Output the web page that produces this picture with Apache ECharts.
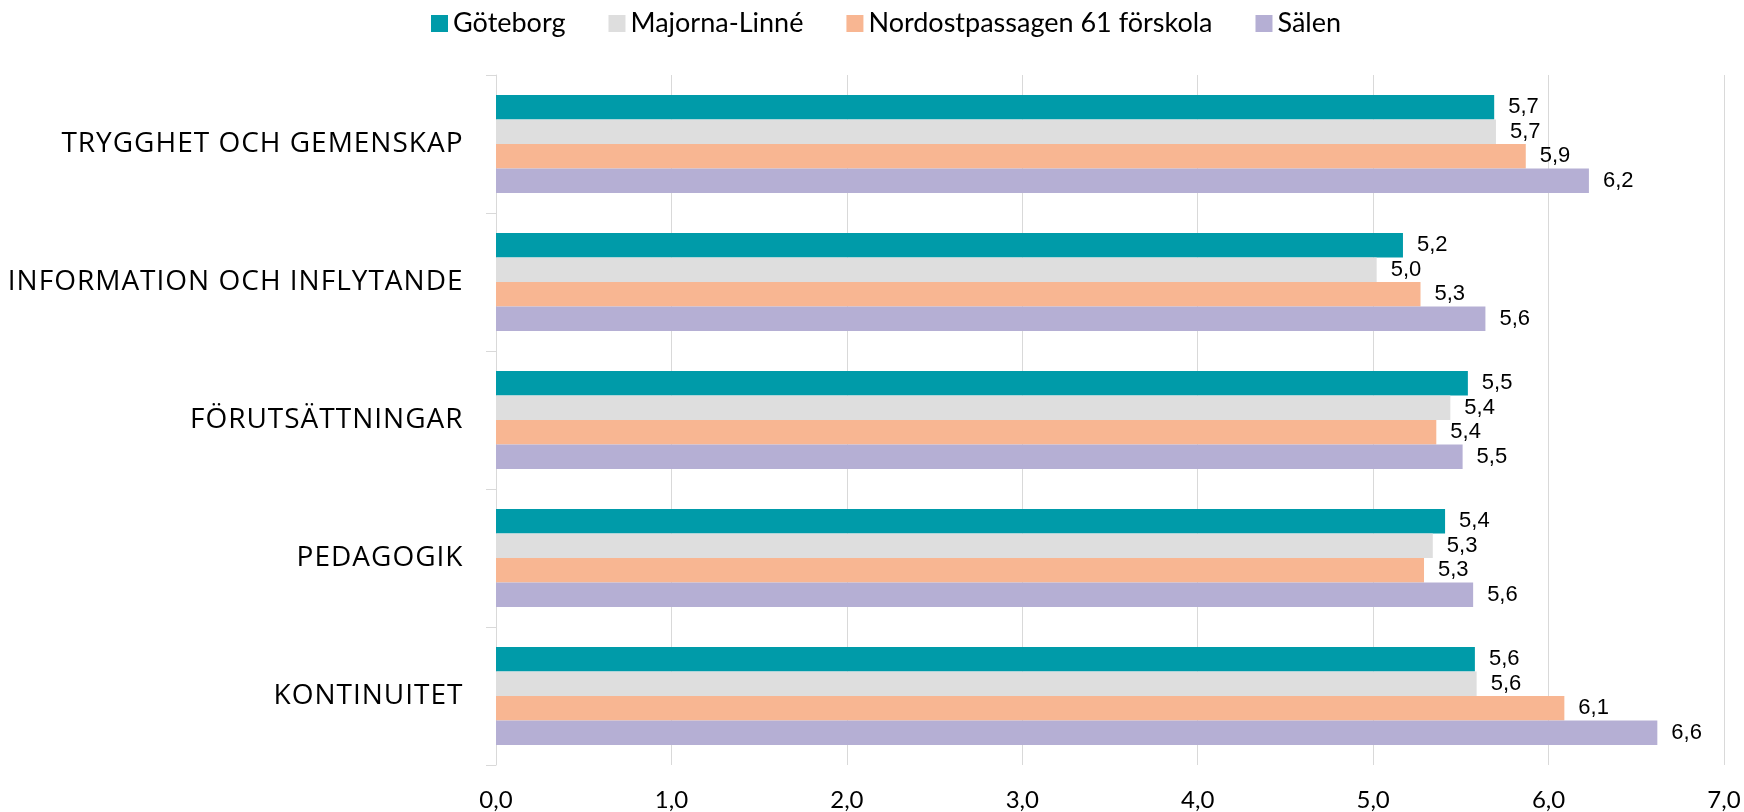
<!DOCTYPE html>
<html>
<head>
<meta charset="utf-8">
<script src="https://cdn.jsdelivr.net/npm/echarts@6/dist/echarts.min.js"></script>
<style>
html,body{margin:0;padding:0;background:#fff;}
#chart{width:1744px;height:812px;}
</style>
</head>
<body>
<div id="chart"></div>
<script>
const categories = ["TRYGGHET OCH GEMENSKAP", "INFORMATION OCH INFLYTANDE", "FÖRUTSÄTTNINGAR", "PEDAGOGIK", "KONTINUITET"];
const seriesNames = ["Göteborg", "Majorna-Linné", "Nordostpassagen 61 förskola", "Sälen"];
const goteborg = [5.69, 5.17, 5.54, 5.41, 5.58];
const majornaLinne = [5.70, 5.02, 5.44, 5.34, 5.59];
const nordostpassagen = [5.87, 5.27, 5.36, 5.29, 6.09];
const salen = [6.23, 5.64, 5.51, 5.57, 6.62];
const xTicks = [0, 1, 2, 3, 4, 5, 6, 7];
const colors = ["#009ba9", "#dedede", "#f8b692", "#b5afd4"];

const seriesData = [goteborg, majornaLinne, nordostpassagen, salen];
const fmt = v => v.toFixed(1).replace('.', ',');
// emulate letter spacing: one rich token per character
const spaced = s => Array.from(s).map(c => '{s|' + c + '}').join('');

const chart = echarts.init(document.getElementById('chart'), null, {renderer: 'canvas'});
chart.setOption({
  animation: false,
  backgroundColor: '#ffffff',
  legend: {
    top: 5,
    left: 426,
    itemWidth: 17,
    itemHeight: 17,
    itemGap: 43,
    icon: 'rect',
    textStyle: {fontFamily: 'Lato', fontSize: 27, color: '#000'},
    data: seriesNames
  },
  grid: {left: 496, right: 20, top: 75, bottom: 47, containLabel: false},
  xAxis: {
    type: 'value',
    min: xTicks[0],
    max: xTicks[xTicks.length - 1],
    interval: 1,
    axisLine: {show: false},
    axisTick: {show: false},
    splitLine: {show: true, lineStyle: {color: '#d9d9d9', width: 1}},
    axisLabel: {
      margin: 23,
      fontFamily: 'Lato', fontSize: 24, color: '#000',
      formatter: v => fmt(v)
    }
  },
  yAxis: {
    type: 'category',
    inverse: true,
    data: categories,
    axisLine: {show: true, lineStyle: {color: '#d9d9d9', width: 1}},
    axisTick: {show: true, length: 10, lineStyle: {color: '#d9d9d9'}},
    axisLabel: {
      margin: 33,
      formatter: v => spaced(v),
      rich: {s: {fontFamily: 'Open Sans', fontSize: 28, color: '#000', padding: [0, 0.5]}}
    }
  },
  series: seriesData.map((d, i) => ({
    name: seriesNames[i],
    type: 'bar',
    data: d,
    barWidth: 24.5,
    barGap: '0%',
    itemStyle: {color: colors[i]},
    label: {
      show: true,
      position: 'right',
      distance: 14,
      color: '#000',
      fontFamily: 'Liberation Sans',
      fontSize: 22,
      formatter: p => fmt(p.value)
    }
  }))
});
</script>
</body>
</html>
